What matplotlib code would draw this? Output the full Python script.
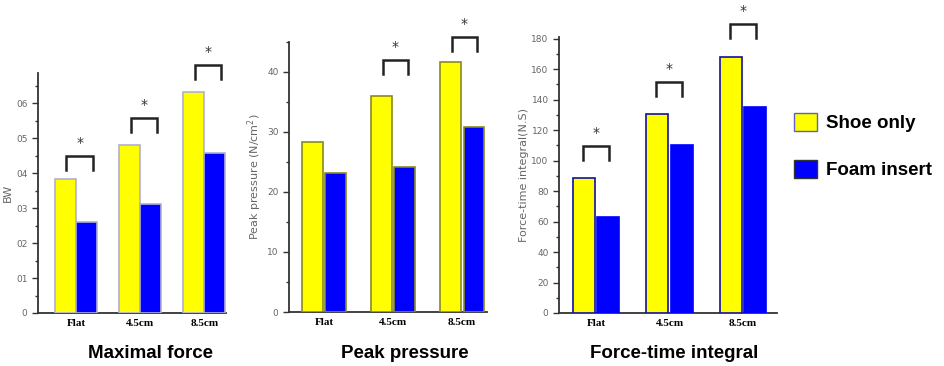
import numpy as np
import matplotlib
matplotlib.use('Agg')
import matplotlib.pyplot as plt
from matplotlib.patches import Patch

# data
conditions = ['Flat', '4.5cm', '8.5cm']
series_names = ['Shoe only', 'Foam insert']

force_shoe = [0.383, 0.48, 0.631]
force_foam = [0.26, 0.311, 0.457]
force_sig = [0.45, 0.557, 0.709]

pressure_shoe = [28.3, 36.0, 41.7]
pressure_foam = [23.2, 24.2, 30.8]
pressure_sig = [None, 42.0, 45.8]

fti_shoe = [88.5, 130.5, 168.0]
fti_foam = [63.0, 110.0, 135.0]
fti_sig = [109.5, 151.5, 189.5]

YELLOW = '#ffff00'
BLUE = '#0000ff'
AXIS = '#333333'
TICK = '#666666'


def draw_panel(ax, shoe, foam, sig, ymax, major, minor, ylabel, title,
               xlim, width, offset, edge_shoe, edge_foam, sig_span,
               title_x, ticklabels=None):
    """
    Draws one grouped bar panel with significance brackets.
    """
    x = np.arange(len(conditions))
    ax.bar(x - offset, shoe, width, color=YELLOW, edgecolor=edge_shoe,
           linewidth=1.2, zorder=3)
    ax.bar(x + offset, foam, width, color=BLUE, edgecolor=edge_foam,
           linewidth=1.2, zorder=3)

    ax.set_xlim(*xlim)
    ax.set_ylim(0, ymax)
    for side in ['top', 'right']:
        ax.spines[side].set_visible(False)
    for side in ['left', 'bottom']:
        ax.spines[side].set_color(AXIS)
        ax.spines[side].set_linewidth(1.3)

    ticks = np.arange(0, ymax + 1e-9, major)
    ax.set_yticks(ticks)
    ax.set_yticks(np.arange(0, ymax + 1e-9, minor), minor=True)
    if ticklabels is not None:
        ax.set_yticklabels(ticklabels)
    ax.tick_params(axis='y', which='both', direction='out', colors=AXIS,
                   labelcolor=TICK, labelsize=6.5, width=1)
    ax.tick_params(axis='y', which='major', length=4)
    ax.tick_params(axis='y', which='minor', length=2.5)
    ax.set_xticks(x)
    ax.set_xticklabels(conditions, fontsize=8, fontweight='bold',
                       family='Liberation Serif')
    ax.tick_params(axis='x', length=0, pad=4)
    ax.set_ylabel(ylabel, color=TICK, fontsize=8, labelpad=2)

    # pixel to data scale for the brackets
    fig_h = ax.figure.get_size_inches()[1] * ax.figure.dpi
    unit = ymax / (ax.get_position().height * fig_h)
    for i, level in enumerate(sig):
        if level is None:
            continue
        x0 = i + sig_span[0]
        x1 = i + sig_span[1]
        leg = level - 14 * unit
        ax.plot([x0, x0, x1, x1], [leg, level, level, leg], color='#222222',
                linewidth=1.8, clip_on=False, solid_joinstyle='miter')
        ax.text((x0 + x1) / 2, level + 13 * unit, '*', ha='center',
                va='center', fontsize=10, color='#333333', clip_on=False)

    ax.figure.text(title_x / 944, 1 - 353 / 366, title, ha='center',
                   va='center', fontsize=13.5, fontweight='bold',
                   family='Liberation Sans')


fig = plt.figure(figsize=(9.44, 3.66), dpi=100)

ax1 = fig.add_axes([38 / 944, 1 - 313 / 366, 188 / 944, 240 / 366])
draw_panel(ax1, force_shoe, force_foam, force_sig, 0.686, 0.1, 0.05, 'BW',
           'Maximal force', (-0.594, 2.34), 0.33, 0.165, '#b0b0d0', '#b0b0d0',
           (-0.15, 0.26), 150,
           ticklabels=['0', '01', '02', '03', '04', '05', '06'])

ax2 = fig.add_axes([289 / 944, 1 - 312 / 366, 198 / 944, 270 / 366])
draw_panel(ax2, pressure_shoe, pressure_foam, pressure_sig, 45, 10, 5,
           'Peak pressure (N/cm$^2$)', 'Peak pressure', (-0.507, 2.36), 0.30,
           0.17, '#8a8a20', '#8a8a20', (-0.15, 0.21), 405)

ax3 = fig.add_axes([559 / 944, 1 - 313 / 366, 218 / 944, 276 / 366])
draw_panel(ax3, fti_shoe, fti_foam, fti_sig, 181, 20, 10,
           'Force-time integral(N.S)', 'Force-time integral', (-0.503, 2.46),
           0.30, 0.165, '#1010a0', BLUE, (-0.18, 0.17), 674)

# legend
handles = [Patch(facecolor=YELLOW, edgecolor='#6060c0', label=series_names[0]),
           Patch(facecolor=BLUE, edgecolor='#333333', label=series_names[1])]
fig.legend(handles=handles, loc='upper left',
           bbox_to_anchor=(794 / 944, 1 - 113 / 366), borderaxespad=0,
           borderpad=0, frameon=False, handlelength=1.2, handleheight=1.1,
           labelspacing=1.45, handletextpad=0.5,
           prop={'family': 'Liberation Sans', 'weight': 'bold', 'size': 13.5})

fig.savefig('out.png', dpi=100)
